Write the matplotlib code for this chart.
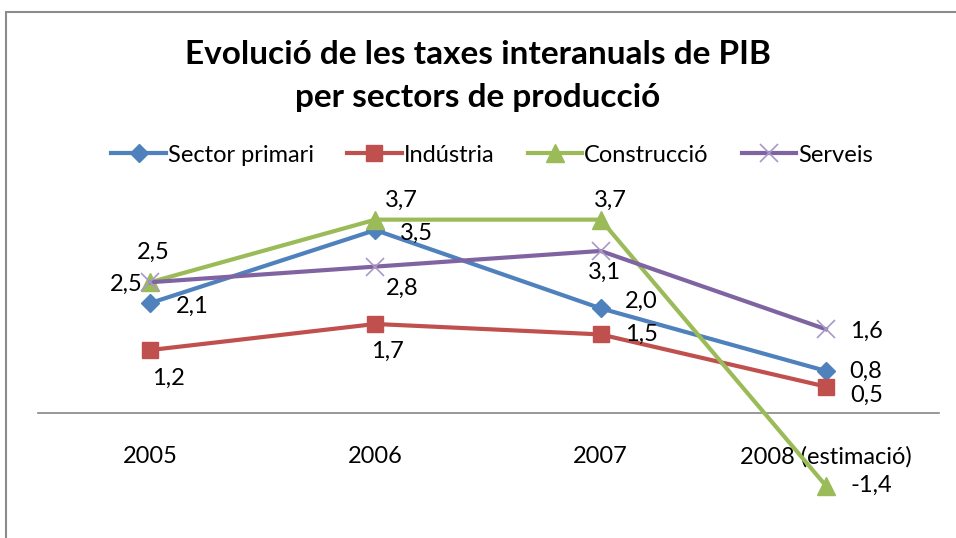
import matplotlib
matplotlib.use("Agg")
import matplotlib.pyplot as plt
from matplotlib.patches import Rectangle

plt.rcParams['font.family'] = ['Lato', 'DejaVu Sans']

# Dades
anys = ["2005", "2006", "2007", "2008 (estimació)"]
sector_primari = [2.1, 3.5, 2.0, 0.8]
industria = [1.2, 1.7, 1.5, 0.5]
construccio = [2.5, 3.7, 3.7, -1.4]
serveis = [2.5, 2.8, 3.1, 1.6]

series = [
    ("Sector primari", sector_primari, "#4F81BD", "D", 9.5, "#4F81BD"),
    ("Indústria", industria, "#C0504D", "s", 11.5, "#C0504D"),
    ("Construcció", construccio, "#9BBB59", "^", 12.5, "#9BBB59"),
    ("Serveis", serveis, "#8064A2", "x", 12.5, "#A898C8"),
]

# posició de les etiquetes (pixels, respecte al punt)
offsets = [
    [(42, -3), (41, -3), (41, 7), (40, 0)],
    [(18, -28), (12, -27), (41, 0), (41, -9)],
    [(3, 30), (26, 19), (10, 19), (45, 0)],
    [(-24, -2), (27, -22), (4, -21), (41, -2)],
]

fig = plt.figure(figsize=(9.56, 5.38), dpi=100)
fig.patches.append(Rectangle((6 / 956, -0.1), 2.0, 1 - 12 / 538 + 0.1,
                             transform=fig.transFigure, fill=False,
                             edgecolor="#8c8c8c", linewidth=1.5))

ax = fig.add_axes([37.5 / 956, 1 - 517 / 538, 901 / 956, 313 / 538])
x = range(len(anys))
handles = []
for (name, vals, col, mk, ms, mcol), offs in zip(series, offsets):
    mew = 1.2 if mk == "x" else 1
    h, = ax.plot(x, vals, color=col, linewidth=3, marker=mk, markersize=ms,
                 markerfacecolor=mcol, markeredgecolor=mcol, markeredgewidth=mew,
                 label=name, zorder=3)
    handles.append(h)
    for i, v in enumerate(vals):
        ax.annotate(f"{v:.1f}".replace(".", ","), (i, v), xytext=offs[i],
                    textcoords="offset pixels", ha="center", va="center",
                    fontsize=17, color="#000000")

ax.set_xlim(-0.5, 3.5)
ax.set_ylim(-2, 4)
ax.set_yticks([])
for s in ["top", "right", "left"]:
    ax.spines[s].set_visible(False)
ax.spines["bottom"].set_position(("data", 0))
ax.spines["bottom"].set_color("#868686")
ax.spines["bottom"].set_linewidth(1.2)
ax.set_xticks(list(x))
ax.set_xticklabels(anys, fontsize=17)
ax.tick_params(axis="x", length=0, pad=24)
ax.patch.set_alpha(0)

fig.text(0.5, 1 - 55 / 538, "Evolució de les taxes interanuals de PIB",
         ha="center", va="center", fontsize=24, fontweight="bold")
fig.text(0.5, 1 - 97 / 538, "per sectors de producció",
         ha="center", va="center", fontsize=24, fontweight="bold")

fig.legend(handles=handles, loc="center", bbox_to_anchor=(0.515, 1 - 155 / 538),
           ncol=4, frameon=False, fontsize=17, handlelength=2.3,
           handletextpad=0.1, columnspacing=1.4)

plt.savefig("out.png", dpi=100)
